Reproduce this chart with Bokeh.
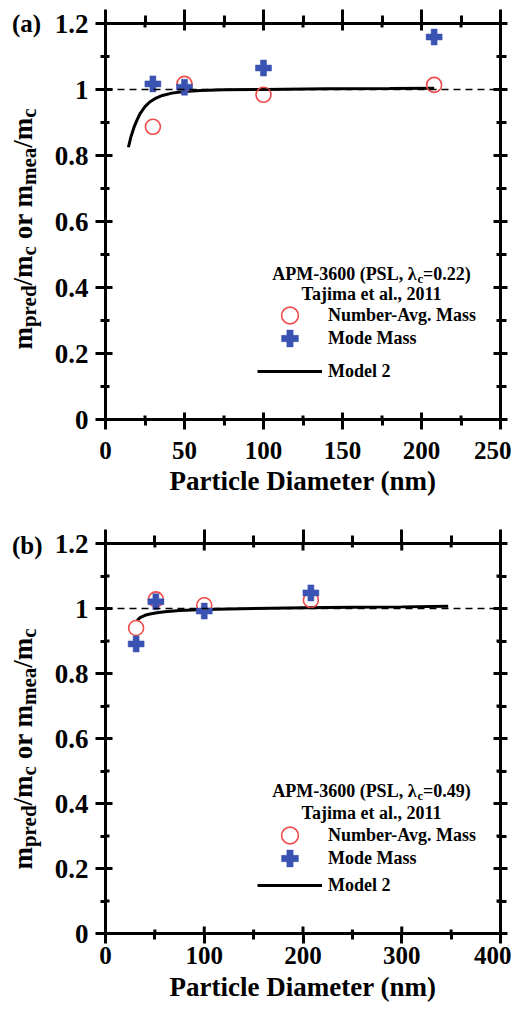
import math
from bokeh.plotting import figure
from bokeh.models import (Range1d, LinearAxis, FixedTicker, CustomJSTickFormatter,
                          Span, Label, Legend, LegendItem, Div)
from bokeh.layouts import column, row
from bokeh.embed import file_html
from bokeh.resources import INLINE

# ---------------- data ----------------
# Panel (a): APM-3600 (PSL, lambda_c = 0.22), Tajima et al., 2011
diam_a = [30, 50, 100, 208]
navg_a = [0.887, 1.017, 0.984, 1.014]      # Number-Avg. Mass
mode_a = [1.017, 1.007, 1.065, 1.159]      # Mode Mass
model_x_a = [14.5, 16, 18, 20, 22, 25, 28, 32, 36, 42, 50, 60, 75, 100, 140, 180, 208]
model_y_a = [0.825, 0.855, 0.885, 0.908, 0.928, 0.948, 0.962, 0.974, 0.982, 0.989,
             0.994, 0.997, 0.999, 1.0, 1.002, 1.003, 1.004]
lam_a = "0.22"
xticks_a = [0, 50, 100, 150, 200, 250]
xminor_a = [25, 75, 125, 175, 225]

# Panel (b): APM-3600 (PSL, lambda_c = 0.49), Tajima et al., 2011
diam_b = [31, 51, 100, 208]
navg_b = [0.94, 1.028, 1.010, 1.026]
mode_b = [0.891, 1.021, 0.992, 1.048]
model_x_b = [32, 35, 40, 45, 52, 60, 75, 100, 150, 200, 250, 300, 347]
model_y_b = [0.963, 0.972, 0.979, 0.983, 0.987, 0.990, 0.994, 0.997, 1.0, 1.002,
             1.004, 1.005, 1.007]
lam_b = "0.49"
xticks_b = [0, 100, 200, 300, 400]
xminor_b = [50, 150, 250, 350]

yticks = [0, 0.2, 0.4, 0.6, 0.8, 1.0, 1.2]
yminor = [0.1, 0.3, 0.5, 0.7, 0.9, 1.1]

# ---------------- style ----------------
FONT = "Liberation Serif"
RED = "#f04a4a"
BLUE = "#3a52b2"
SIDE_W = 45
FRAME_W = 395
AXW = 3      # axis line width
TKW = 3      # tick width

# Times/Liberation Serif Bold advance widths (per 1000 em)
W = {'m': 833, 'p': 556, 'r': 444, 'e': 444, 'd': 556, '/': 278, 'c': 444, 'o': 500,
     'a': 500, ' ': 250, 'A': 722, 'P': 611, 'M': 944, '-': 333, '(': 333, ')': 333,
     'S': 556, 'L': 667, ',': 250, 'λ': 550, '=': 570, '.': 250}
for d in "0123456789":
    W[d] = 500


def tw(text, size):
    return sum(W.get(ch, 500) for ch in text) * size / 1000.0


def add_label(p, text, x, y, size, align="left", baseline="middle", angle=0.0,
              xo=0, yo=0):
    p.add_layout(Label(x=x, y=y, x_offset=xo, y_offset=yo, text=text,
                       text_font=FONT, text_font_style="bold",
                       text_font_size=f"{size}px", text_color="black",
                       text_align=align, text_baseline=baseline, angle=angle))


def make_side(tag, height, tag_top, title_center):
    """HTML strip left of the plot holding the panel tag and the y-axis title."""
    sub = 'style="font-size:21px;vertical-align:-4px;line-height:0;"'
    html = (
        f'<div style="position:relative;width:{SIDE_W}px;height:{height}px;'
        f"font-family:'{FONT}';font-weight:bold;color:#000;\">"
        f'<span style="position:absolute;left:12px;top:{tag_top}px;'
        f'transform:translateY(-50%);font-size:25px;line-height:25px;'
        f'white-space:nowrap;">{tag}</span>'
        f'<div style="position:absolute;left:23px;top:{title_center}px;'
        f'transform:translate(-50%,-50%) rotate(-90deg);font-size:27px;'
        f'line-height:27px;white-space:nowrap;">'
        f'm<sub {sub}>pred</sub>/m<sub {sub}>c</sub> or '
        f'm<sub {sub}>mea</sub>/m<sub {sub}>c</sub></div></div>'
    )
    return Div(text=html, width=SIDE_W, height=height, margin=0,
               styles={"overflow": "visible"})


def style_axis(ax, tin, tout, min_in, min_out):
    ax.axis_line_width = AXW
    ax.axis_line_color = "black"
    ax.major_tick_line_width = TKW
    ax.minor_tick_line_width = TKW
    ax.major_tick_line_color = "black"
    ax.minor_tick_line_color = "black"
    ax.major_tick_in = tin
    ax.major_tick_out = tout
    ax.minor_tick_in = min_in
    ax.minor_tick_out = min_out


YFMT = "const s = tick.toFixed(1); return s.endsWith('.0') ? s.slice(0, -2) : s;"


def tick_marks(p, xticks, xminor, xmax, ymax, frame_h):
    """Short filled tick marks along the inside of all four frame edges."""
    px = xmax / FRAME_W          # data units per pixel, x
    py = ymax / frame_h          # data units per pixel, y
    hw_x, hw_y = 1.5 * px, 1.5 * py
    for xs, ln in ((xticks, 7), (xminor, 4)):
        n = len(xs)
        p.quad(left=[x - hw_x for x in xs], right=[x + hw_x for x in xs],
               top=[ymax] * n, bottom=[ymax - ln * py] * n,
               fill_color="black", line_color=None)
        p.quad(left=[x - hw_x for x in xs], right=[x + hw_x for x in xs],
               bottom=[0] * n, top=[ln * py] * n,
               fill_color="black", line_color=None)
    for ys, ln in ((yticks, 7), (yminor, 4)):
        n = len(ys)
        p.quad(bottom=[y - hw_y for y in ys], top=[y + hw_y for y in ys],
               right=[xmax] * n, left=[xmax - ln * px] * n,
               fill_color="black", line_color=None)
        p.quad(bottom=[y - hw_y for y in ys], top=[y + hw_y for y in ys],
               left=[0] * n, right=[ln * px] * n,
               fill_color="black", line_color=None)


def make_panel(diam, navg, mode, mx, my, xticks, xminor, lam,
               frame_h, b_top, b_bot, lab_so, title_so, leg):
    xmax = xticks[-1]
    ymax = yticks[-1]
    p = figure(frame_width=FRAME_W, frame_height=frame_h,
               min_border_left=105 - SIDE_W, min_border_right=11,
               min_border_top=b_top, min_border_bottom=b_bot,
               x_range=Range1d(0, xmax), y_range=Range1d(0, ymax),
               output_backend="svg", toolbar_location=None,
               x_axis_label="Particle Diameter (nm)")
    p.grid.visible = False
    p.outline_line_color = None
    p.background_fill_color = "white"
    p.border_fill_color = "white"

    xa = p.xaxis[0]
    ya = p.yaxis[0]
    xa.ticker = FixedTicker(ticks=xticks, minor_ticks=xminor)
    ya.ticker = FixedTicker(ticks=yticks, minor_ticks=yminor)
    ya.formatter = CustomJSTickFormatter(code=YFMT)
    style_axis(xa, 0, 10, 0, 6)
    style_axis(ya, 0, 10, 0, 5)
    for ax, fsz, so in ((xa, "25px", lab_so), (ya, "27px", 7)):
        ax.major_label_text_font = FONT
        ax.major_label_text_font_style = "bold"
        ax.major_label_text_color = "black"
        ax.major_label_text_font_size = fsz
        ax.major_label_standoff = so
    xa.axis_label_text_font = FONT
    xa.axis_label_text_font_style = "bold"
    xa.axis_label_text_font_size = "27px"
    xa.axis_label_text_color = "black"
    xa.axis_label_standoff = title_so

    # mirrored axes on top and right: ticks only
    top = LinearAxis(ticker=FixedTicker(ticks=xticks, minor_ticks=xminor))
    right = LinearAxis(ticker=FixedTicker(ticks=yticks, minor_ticks=yminor))
    style_axis(top, 0, 14, 0, 8)
    style_axis(right, 4, 7, 3, 6)
    for ax in (top, right):
        ax.major_label_text_font_size = "1px"
        ax.major_label_text_color = None
        ax.major_label_standoff = 0
    p.add_layout(top, "above")
    p.add_layout(right, "right")

    tick_marks(p, xticks, xminor, xmax, ymax, frame_h)

    p.add_layout(Span(location=1.0, dimension="width", line_color="black",
                      line_width=1.6, line_dash="7 5"))

    r_line = p.line(mx, my, line_color="black", line_width=3)
    r_circ = p.scatter(diam, navg, marker="circle", size=15, fill_color=None,
                       line_color=RED, line_width=1.6)
    r_plus = p.scatter(diam, mode, marker="plus", size=16, fill_color=BLUE,
                       line_color=BLUE, line_width=0.5)

    for label, rend, vy in (("Number-Avg. Mass", r_circ, leg["circ"]),
                            ("Mode Mass", r_plus, leg["plus"]),
                            ("Model 2", r_line, leg["line"])):
        lg = Legend(items=[LegendItem(label=label, renderers=[rend])],
                    location=(152, vy), glyph_width=65, glyph_height=42,
                    label_standoff=6, padding=0, margin=0, spacing=0,
                    border_line_color=None, background_fill_alpha=0,
                    label_text_font=FONT, label_text_font_style="bold",
                    label_text_font_size="18px", label_text_color="black")
        p.add_layout(lg)

    # legend header lines
    fs, ss = 18, 12.5
    part1 = "APM-3600 (PSL, λ"
    part3 = "=" + lam + ")"
    total = tw(part1, fs) + tw("c", ss) + tw(part3, fs)
    x0 = 266.0 - total / 2.0
    add_label(p, part1, 0, 0, fs, xo=x0, yo=leg["apm"])
    x1 = x0 + tw(part1, fs)
    add_label(p, "c", 0, 0, ss, xo=x1, yo=leg["apm"] - 5)
    add_label(p, part3, 0, 0, fs, xo=x1 + tw("c", ss), yo=leg["apm"])
    add_label(p, "Tajima et al., 2011", 0, 0, fs, align="center", xo=266.0, yo=leg["taj"])
    return p


# panel (a): frame top page 23, frame bottom page 419
TOP_A, FH_A, BOT_A = 23, 396, 80
H_A = TOP_A + FH_A + BOT_A
pa = make_panel(diam_a, navg_a, mode_a, model_x_a, model_y_a, xticks_a, xminor_a, lam_a,
                FH_A, TOP_A, BOT_A, 12, 4,
                {"circ": 83, "plus": 60, "line": 27, "apm": 146, "taj": 126})
sa = make_side("(a)", H_A, 23, 229)

# panel (b): frame top page 543, frame bottom page 933
TOP_B, FH_B, BOT_B = 543 - H_A, 390, 78
H_B = TOP_B + FH_B + BOT_B
pb = make_panel(diam_b, navg_b, mode_b, model_x_b, model_y_b, xticks_b, xminor_b, lam_b,
                FH_B, TOP_B, BOT_B, 3, 5,
                {"circ": 77, "plus": 54, "line": 27, "apm": 143, "taj": 121})
sb = make_side("(b)", H_B, 545 - H_A, 749 - H_A)

layout = column(row(sa, pa, spacing=0), row(sb, pb, spacing=0), spacing=0)
open("out.html", "w").write(file_html(layout, INLINE))
